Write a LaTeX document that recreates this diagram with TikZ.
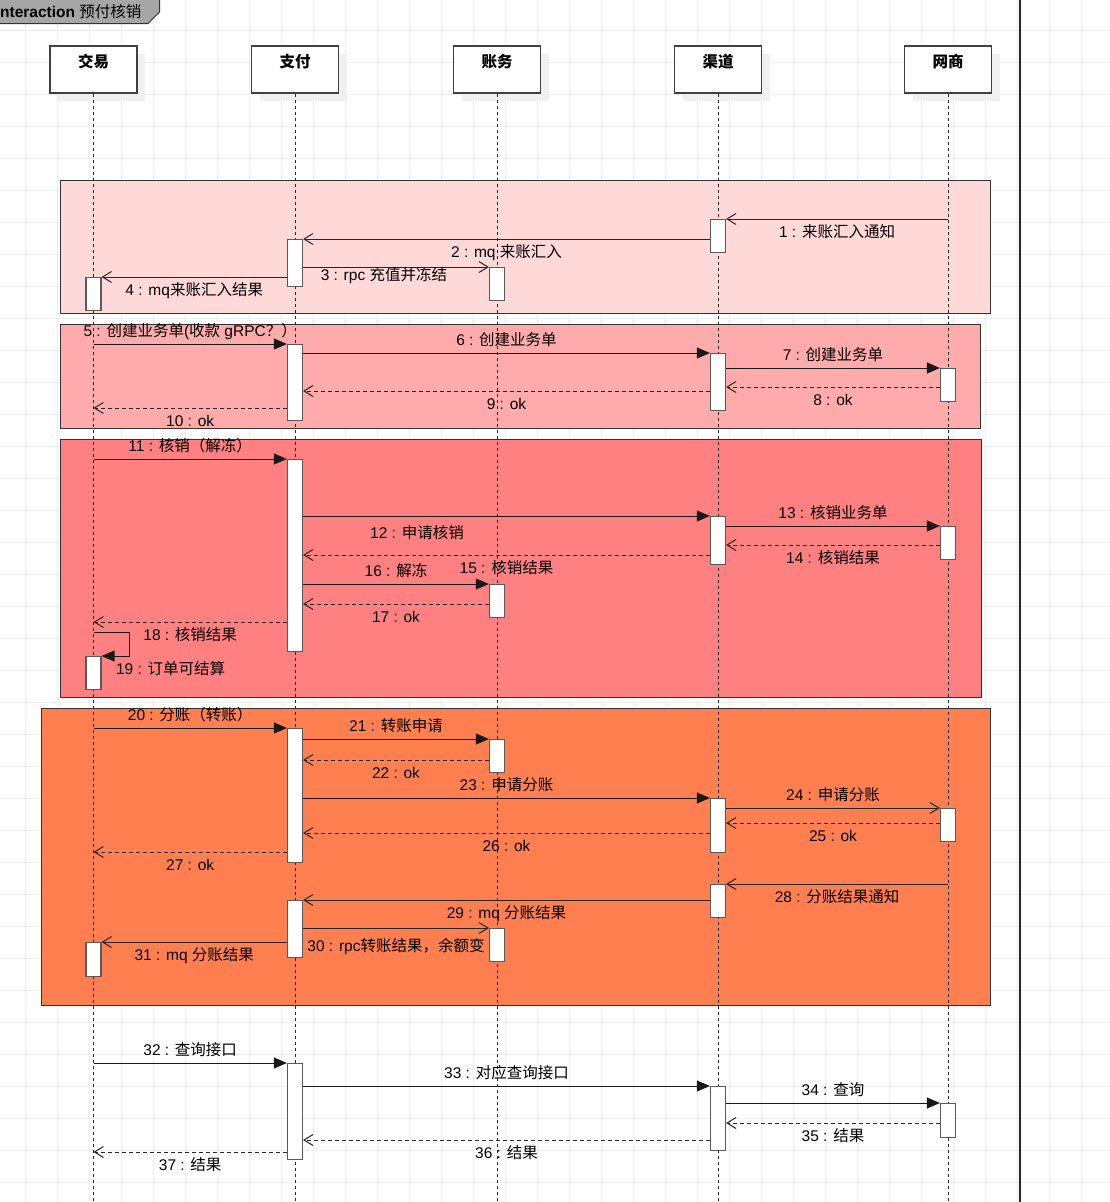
\documentclass[tikz,border=0pt]{standalone}
\usepackage{fontspec}
\setmainfont{Liberation Sans}
\newfontfamily\cjkfont{Noto Sans CJK SC}
\usetikzlibrary{arrows.meta,shadows}

\XeTeXinterchartokenstate=1
\newXeTeXintercharclass\cjkclass
\newcount\cjkcode
\def\setcjkrange#1#2{\cjkcode=#1\relax
  \loop\XeTeXcharclass\cjkcode=\cjkclass
  \ifnum\cjkcode<#2\relax\advance\cjkcode by 1\repeat}
\setcjkrange{"3000}{"303F}
\setcjkrange{"4E00}{"9FFF}
\setcjkrange{"FF00}{"FFEF}
\XeTeXinterchartoks 0 \cjkclass={\begingroup\cjkfont}
\XeTeXinterchartoks 4095 \cjkclass={\begingroup\cjkfont}
\XeTeXinterchartoks \cjkclass 0={\endgroup}
\XeTeXinterchartoks \cjkclass 4095={\endgroup}

\definecolor{fragA}{HTML}{FFD8D8}
\definecolor{fragB}{HTML}{FFABAB}
\definecolor{fragC}{HTML}{FF8080}
\definecolor{fragD}{HTML}{FF7F50}
\definecolor{tabgray}{HTML}{A6A6A6}
\definecolor{gridgray}{HTML}{EDEDED}

\newcommand\diafont{\fontsize{15.5}{18}\selectfont}

\tikzset{
  gridline/.style={draw=gridgray, line width=1pt},
  frag/.style={draw=black!80, line width=1pt},
  tab/.style={draw=black!80, fill=tabgray, line width=1pt},
  head/.style={draw=black!75, fill=white, line width=1.2pt, minimum width=87pt,
    minimum height=47pt, inner sep=0pt, text height=12pt, text depth=17pt,
    font=\diafont\bfseries,
    drop shadow={shadow xshift=8pt, shadow yshift=-8pt, fill=black!6, opacity=1}},
  lifeline/.style={draw=black!85, line width=1pt, dash pattern=on 3pt off 3pt},
  act/.style={draw=black!65, fill=white, line width=1.2pt, minimum width=15pt,
    inner sep=0pt, anchor=north},
  sync/.style={draw=black!90, line width=1pt, -{Triangle[length=13pt,width=11pt]}},
  async/.style={draw=black!85, line width=1pt, -{Straight Barb[length=9pt,width=11pt]}},
  reply/.style={async, dash pattern=on 4pt off 3pt},
  lab/.style={inner sep=4pt, text height=13.5pt, text depth=3pt, font=\diafont}
}

\begin{document}
\begin{tikzpicture}[x=1pt, y=-1pt, font=\diafont]
  \useasboundingbox (0,0) rectangle (1110,1202);
  \clip (0,0) rectangle (1110,1202);
  \fill[white] (0,0) rectangle (1110,1202);
  \foreach \gx in {25.5,57.5,...,1110} \draw[gridline] (\gx,0) -- (\gx,1202);
  \foreach \gy in {30.5,62.5,...,1202} \draw[gridline] (0,\gy) -- (1110,\gy);

  \draw[tab] (-2,-2) -- (159.5,-2) -- (159.5,12) -- (148,23.5) -- (-2,23.5) -- cycle;
  \node[anchor=base west, inner sep=0pt] (title) at (-4.3,17) {{\bfseries interaction} 预付核销};
  \draw[line width=1.5pt, black!85] (1020,0) -- (1020,1202);

  \draw[frag, fill=fragA] (60,180) rectangle (990.5,313.5);
  \draw[frag, fill=fragB] (60,324) rectangle (980.5,428.5);
  \draw[frag, fill=fragC] (60,439.5) rectangle (981.5,697.5);
  \draw[frag, fill=fragD] (41,708.5) rectangle (990,1005.5);

  \node[head] (jy) at (93.5,69.5) {交易};
  \node[head] (zf) at (295,69.5) {支付};
  \node[head] (zw) at (497,69.5) {账务};
  \node[head] (qd) at (718,69.5) {渠道};
  \node[head] (ws) at (948,69.5) {网商};

  \coordinate (bot) at (0,1202);
  \foreach \h in {jy,zf,zw,qd,ws} \draw[lifeline] (\h.south) -- (\h |- bot);

  \foreach \n/\y in {1/219, 2/239, 3/267, 4/277, 5/344, 6/353, 7/368, 8/387, 9/391,
      10/408, 11/459, 12/516, 13/526, 14/545, 15/555, 16/584, 17/604, 18/622,
      19/632, 19e/656, 20/728, 21/739, 22/760, 23/798, 24/808, 25/823, 26/833,
      27/852, 28/884, 29/900, 30/928, 31/942, 32/1063, 33/1086, 34/1103,
      35/1123, 36/1140, 37/1152}
    \coordinate (m\n) at (0,\y);

  \foreach \a/\h/\m/\len in {qd1/qd/1/33pt, zf1/zf/2/47pt, zw1/zw/3/33pt, jy1/jy/4/33pt,
      zf2/zf/5/76pt, qd2/qd/6/57pt, ws1/ws/7/33pt,
      zf3/zf/11/192pt, qd3/qd/12/48pt, ws2/ws/13/33pt, zw2/zw/16/33pt, jy2/jy/19e/33pt,
      zf4/zf/20/134pt, zw3/zw/21/33pt, qd4/qd/23/54pt, ws3/ws/24/33pt,
      qd5/qd/28/33pt, zf5/zf/29/57pt, zw4/zw/30/33pt, jy3/jy/31/34pt,
      zf6/zf/32/96pt, qd6/qd/33/64pt, ws4/ws/34/34pt}
    \node[act, minimum height=\len] (\a) at (\h |- m\m) {};

  \draw[async] (ws |- m1) -- (qd1.east |- m1) node[lab, midway, below] (t1) {1 : 来账汇入通知};
  \draw[async] (qd1.west |- m2) -- (zf1.east |- m2) node[lab, midway, below] (t2) {2 : mq 来账汇入};
  \draw[async] (zf1.east |- m3) -- (zw1.west |- m3) node[lab, pos=.435, below, yshift=4.5pt] (t3) {3 : rpc 充值并冻结};
  \draw[async] (zf1.west |- m4) -- (jy1.east |- m4) node[lab, midway, below] (t4) {4 : mq来账汇入结果};

  \draw[sync] (jy |- m5) -- (zf2.west |- m5) node[lab, midway, above] (t5) {5 : 创建业务单(收款 gRPC？）};
  \draw[sync] (zf2.east |- m6) -- (qd2.west |- m6) node[lab, midway, above] (t6) {6 : 创建业务单};
  \draw[sync] (qd2.east |- m7) -- (ws1.west |- m7) node[lab, midway, above] (t7) {7 : 创建业务单};
  \draw[reply] (ws1.west |- m8) -- (qd2.east |- m8) node[lab, midway, below] (t8) {8 : ok};
  \draw[reply] (qd2.west |- m9) -- (zf2.east |- m9) node[lab, midway, below] (t9) {9 : ok};
  \draw[reply] (zf2.west |- m10) -- (jy |- m10) node[lab, midway, below] (t10) {10 : ok};

  \draw[sync] (jy |- m11) -- (zf3.west |- m11) node[lab, midway, above] (t11) {11 : 核销（解冻）};
  \draw[sync] (zf3.east |- m12) -- (qd3.west |- m12) node[lab, pos=.28, below, yshift=-4.5pt] (t12) {12 : 申请核销};
  \draw[sync] (qd3.east |- m13) -- (ws2.west |- m13) node[lab, midway, above] (t13) {13 : 核销业务单};
  \draw[reply] (ws2.west |- m14) -- (qd3.east |- m14) node[lab, midway, below] (t14) {14 : 核销结果};
  \draw[reply] (qd3.west |- m15) -- (zf3.east |- m15) node[lab, midway, below] (t15) {15 : 核销结果};
  \draw[sync] (zf3.east |- m16) -- (zw2.west |- m16) node[lab, midway, above] (t16) {16 : 解冻};
  \draw[reply] (zw2.west |- m17) -- (zf3.east |- m17) node[lab, midway, below] (t17) {17 : ok};
  \draw[reply] (zf3.west |- m18) -- (jy |- m18) node[lab, midway, below] (t18) {18 : 核销结果};
  \draw[sync] (jy |- m19) -- ++(36,0) |- (jy2.north east)
    node[lab, anchor=north west, xshift=10pt] (t19) {19 : 订单可结算};

  \draw[sync] (jy |- m20) -- (zf4.west |- m20) node[lab, midway, above] (t20) {20 : 分账（转账）};
  \draw[sync] (zf4.east |- m21) -- (zw3.west |- m21) node[lab, midway, above] (t21) {21 : 转账申请};
  \draw[reply] (zw3.west |- m22) -- (zf4.east |- m22) node[lab, midway, below] (t22) {22 : ok};
  \draw[sync] (zf4.east |- m23) -- (qd4.west |- m23) node[lab, midway, above] (t23) {23 : 申请分账};
  \draw[async] (qd4.east |- m24) -- (ws3.west |- m24) node[lab, midway, above] (t24) {24 : 申请分账};
  \draw[reply] (ws3.west |- m25) -- (qd4.east |- m25) node[lab, midway, below] (t25) {25 : ok};
  \draw[reply] (qd4.west |- m26) -- (zf4.east |- m26) node[lab, midway, below] (t26) {26 : ok};
  \draw[reply] (zf4.west |- m27) -- (jy |- m27) node[lab, midway, below] (t27) {27 : ok};
  \draw[async] (ws |- m28) -- (qd5.east |- m28) node[lab, midway, below] (t28) {28 : 分账结果通知};
  \draw[async] (qd5.west |- m29) -- (zf5.east |- m29) node[lab, midway, below] (t29) {29 : mq 分账结果};
  \draw[async] (zf5.east |- m30) -- (zw4.west |- m30) node[lab, midway, below, yshift=-5pt] (t30) {30 : rpc转账结果，余额变};
  \draw[async] (zf5.west |- m31) -- (jy3.east |- m31) node[lab, midway, below] (t31) {31 : mq 分账结果};

  \draw[sync] (jy |- m32) -- (zf6.west |- m32) node[lab, midway, above] (t32) {32 : 查询接口};
  \draw[sync] (zf6.east |- m33) -- (qd6.west |- m33) node[lab, midway, above] (t33) {33 : 对应查询接口};
  \draw[sync] (qd6.east |- m34) -- (ws4.west |- m34) node[lab, midway, above] (t34) {34 : 查询};
  \draw[reply] (ws4.west |- m35) -- (qd6.east |- m35) node[lab, midway, below] (t35) {35 : 结果};
  \draw[reply] (qd6.west |- m36) -- (zf6.east |- m36) node[lab, midway, below] (t36) {36 : 结果};
  \draw[reply] (zf6.west |- m37) -- (jy |- m37) node[lab, midway, below] (t37) {37 : 结果};
\end{tikzpicture}
\end{document}
